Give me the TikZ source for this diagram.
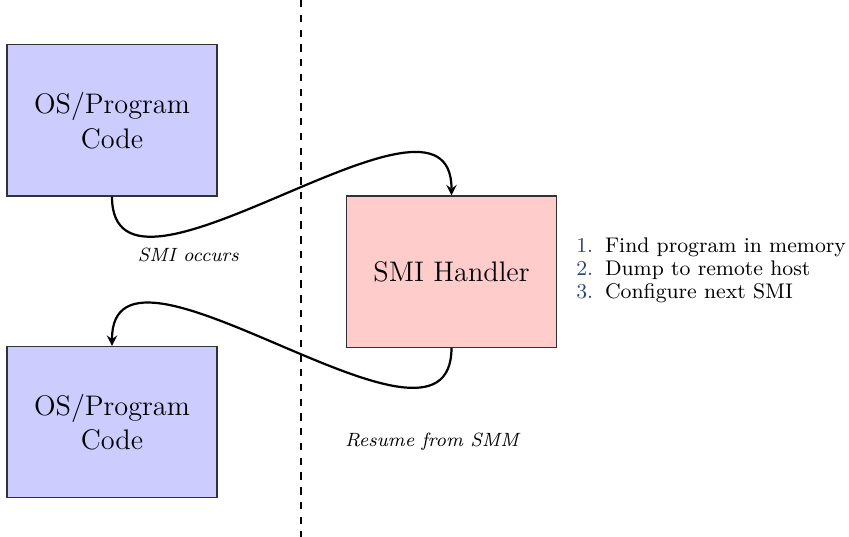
\documentclass[tikz,border=0pt]{standalone}
\usepackage{xcolor}
\usepackage{tikz}
\usetikzlibrary{arrows.meta}

\definecolor{itemblue}{rgb}{0.17,0.27,0.47}

\begin{document}
\begin{tikzpicture}[>=stealth, line width=0.9pt,
    codebox/.style={draw=black!80, line width=0.5pt, minimum width=3cm, minimum height=2.16cm,
                    align=center, font=\fontsize{11.5}{14}\selectfont},
    flowlabel/.style={font=\fontsize{7.8}{9}\selectfont\itshape}]
  \useasboundingbox (0,0) rectangle (12.129,7.671);
  \draw[dashed, line width=0.8pt] (4.3,7.671) -- (4.3,0);
  \node[codebox, fill=blue!20] (code1) at (1.6,5.95) {OS/Program\\Code};
  \node[codebox, fill=blue!20] (code2) at (1.6,1.64) {OS/Program\\Code};
  \node[codebox, fill=red!20] (handler) at (6.45,3.79) {SMI Handler};
  \node[anchor=west, font=\fontsize{8.6}{9.4}\selectfont] (steps) at (8.1,3.8)
        {\begin{tabular}{@{}r@{\hspace{4.8pt}}l@{}}
          \textcolor{itemblue}{1.} & Find program in memory\\
          \textcolor{itemblue}{2.} & Dump to remote host\\
          \textcolor{itemblue}{3.} & Configure next SMI
        \end{tabular}};
  \draw[->] (code1.south) to[out=-90, in=90, looseness=1.05] (handler.north);
  \draw[->] (handler.south) to[out=-90, in=90, looseness=1.05] (code2.north);
  \node[flowlabel] (smi) at (2.69,4.03) {SMI occurs};
  \node[flowlabel] (resume) at (6.17,1.36) {Resume from SMM};
\end{tikzpicture}
\end{document}
